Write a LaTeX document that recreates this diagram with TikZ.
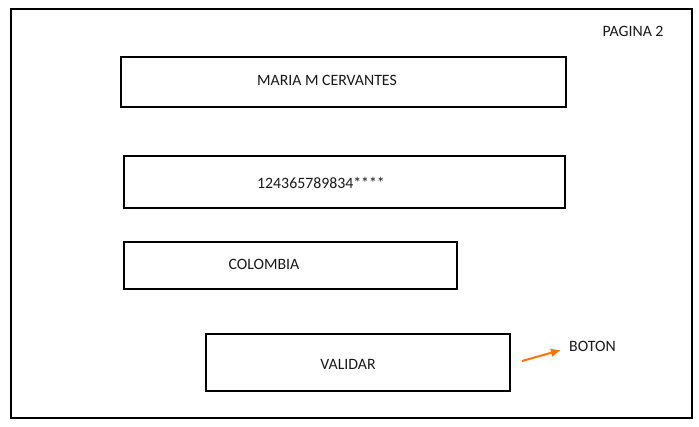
\documentclass[tikz,border=0pt]{standalone}
\usepackage{fontspec}
\setmainfont{Carlito}
\usetikzlibrary{arrows.meta}
\begin{document}
\begin{tikzpicture}[x=1pt,y=-1pt,
  field/.style={draw=black,line width=2pt},
  lbl/.style={font=\fontsize{15.8}{18}\selectfont,inner sep=0pt,text=black!90},
  note/.style={draw=orange!90!red,line width=2pt,-{Latex[length=10pt,width=9pt]}}]
\useasboundingbox (0,0) rectangle (699,426);
\fill[white] (0,0) rectangle (699,426);
\draw[line width=2.5pt] (11,9) rectangle (692,418);
\draw[field] (121,57) rectangle (566,107);
\draw[field] (124,156) rectangle (565,208);
\draw[field] (124,242) rectangle (457,289);
\draw[field] (206,334) rectangle (510,391);
\node[lbl] (pag) at (633,31) {PAGINA 2};
\node[lbl] (name) at (327,80) {MARIA M CERVANTES};
\node[lbl] (num) at (321,183) {124365789834****};
\node[lbl] (pais) at (264,264) {COLOMBIA};
\node[lbl] (val) at (348,364) {VALIDAR};
\node[lbl,anchor=west] (boton) at (569,346) {BOTON};
\coordinate (a0) at (522,361);
\coordinate (a1) at (561,350);
\draw[note] (a0) -- (a1);
\end{tikzpicture}
\end{document}
